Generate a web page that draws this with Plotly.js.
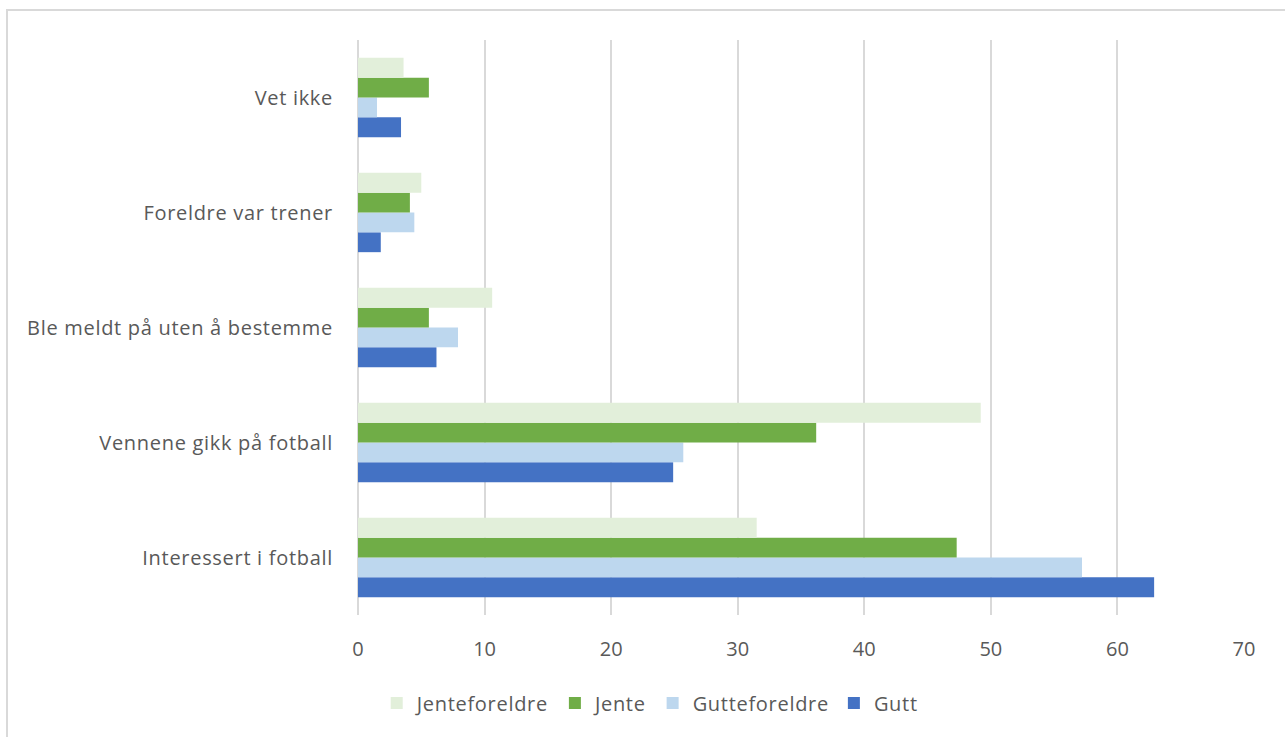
<!DOCTYPE html>
<html>
<head>
<meta charset="utf-8">
<script src="https://cdn.plot.ly/plotly-3.0.1.min.js"></script>
<style>
  html, body { margin: 0; padding: 0; background: #fff; overflow: hidden; }
  #frame { position: absolute; left: 6px; top: 9px; width: 1400px; height: 800px;
           border-top: 2px solid #d9d9d9; border-left: 2px solid #d9d9d9; pointer-events: none; z-index: 5; }
  #chart { width: 1285px; height: 737px; }
  .ytick text, .legendtext { letter-spacing: 0.7px; }
</style>
</head>
<body>
<div id="frame"></div>
<div id="chart"></div>
<script>
const categories = ["Interessert i fotball", "Vennene gikk på fotball", "Ble meldt på uten å bestemme", "Foreldre var trener", "Vet ikke"];
const gutt = [62.9, 24.9, 6.2, 1.8, 3.4];
const gutteforeldre = [57.2, 25.7, 7.9, 4.45, 1.5];
const jente = [47.3, 36.2, 5.6, 4.1, 5.6];
const jenteforeldre = [31.5, 49.2, 10.6, 5.0, 3.6];
const xTicks = [0, 10, 20, 30, 40, 50, 60, 70];

const series = [
  {name: "Gutt", values: gutt, color: "#4472c4"},
  {name: "Gutteforeldre", values: gutteforeldre, color: "#bdd7ee"},
  {name: "Jente", values: jente, color: "#70ad47"},
  {name: "Jenteforeldre", values: jenteforeldre, color: "#e2efda"}
];

const font = "'Open Sans', Lato, sans-serif";
const data = series.map(s => ({
  type: "bar",
  orientation: "h",
  name: s.name,
  x: s.values,
  y: categories,
  marker: {color: s.color, line: {width: 0}},
  hoverinfo: "x+name"
}));

const layout = {
  width: 1285, height: 737,
  margin: {l: 358, r: 41, t: 40, b: 122},
  paper_bgcolor: "#fff", plot_bgcolor: "#fff",
  barmode: "group", bargap: 0.31, bargroupgap: 0,
  font: {family: font, color: "#595959", size: 20},
  xaxis: {
    range: [0, 70], tickvals: xTicks, ticktext: xTicks.map(String),
    showgrid: true, gridcolor: "#d9d9d9", gridwidth: 2,
    zeroline: true, zerolinecolor: "#d9d9d9", zerolinewidth: 2,
    showline: false, ticks: "", ticklabelstandoff: 20,
    tickfont: {size: 20, color: "#595959", family: font}, fixedrange: true
  },
  yaxis: {
    type: "category", showgrid: false, zeroline: false, showline: false, ticks: "",
    ticklabelstandoff: 24, tickfont: {size: 20, color: "#595959", family: font}, fixedrange: true
  },
  showlegend: true,
  legend: {
    orientation: "h", traceorder: "reversed",
    xref: "container", yref: "container", x: 0.506, xanchor: "center", y: 0.046, yanchor: "middle",
    font: {size: 20, color: "#595959", family: font},
    itemwidth: 30, itemclick: false, itemdoubleclick: false
  }
};

Plotly.newPlot("chart", data, layout, {displayModeBar: false, staticPlot: true});
</script>
</body>
</html>
